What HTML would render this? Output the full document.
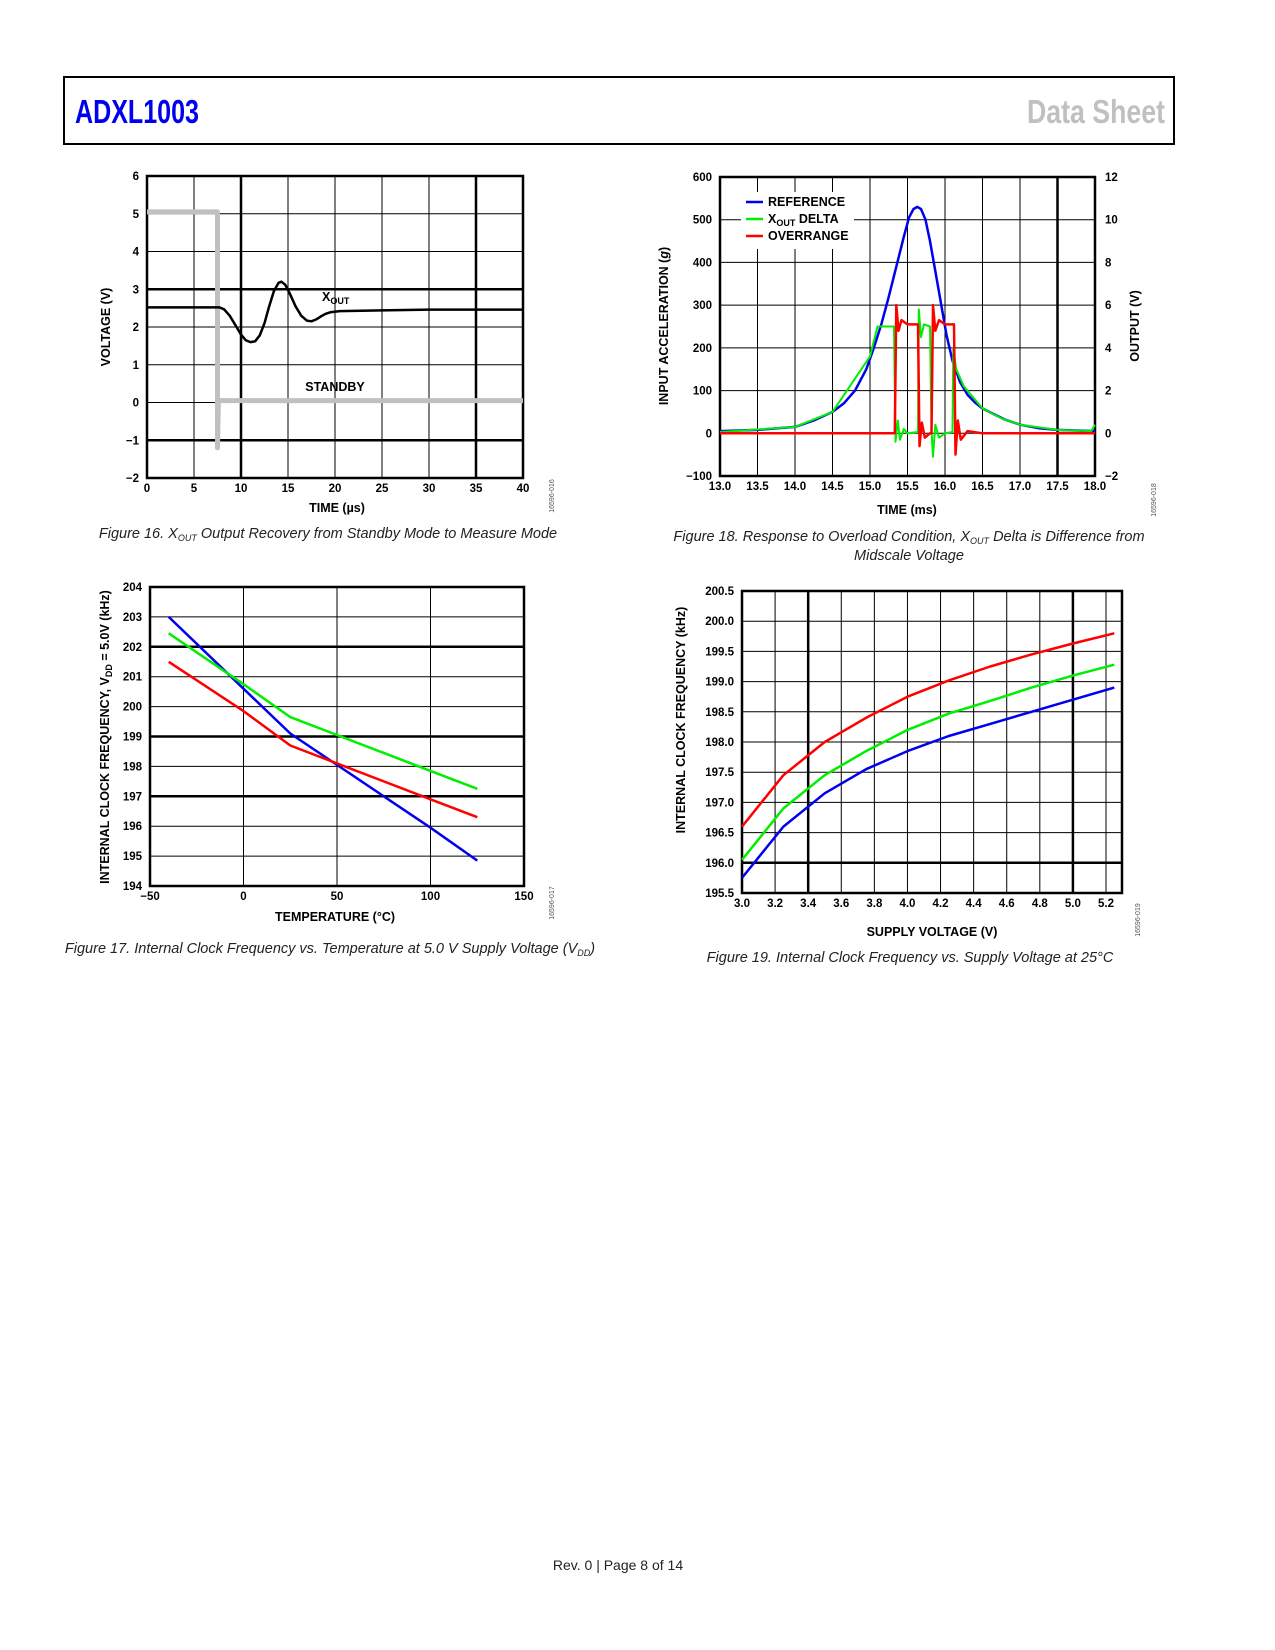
<!DOCTYPE html>
<html><head><meta charset="utf-8"><style>
body{margin:0;background:#fff;}
svg{display:block;font-family:"Liberation Sans",Arial,sans-serif;}
.t{font-size:11.5px;font-weight:bold;fill:#000;}
.at{font-size:12.5px;font-weight:bold;fill:#000;}
.cap{font-size:14.5px;font-style:italic;fill:#222;}
.code{font-size:7px;fill:#555;}
</style></head><body>
<svg id="pg" width="1275" height="1650" viewBox="0 0 1275 1650">
<rect x="64" y="77" width="1110" height="67" fill="none" stroke="#000" stroke-width="2"/>
<text x="75" y="123" font-size="33" font-weight="bold" fill="#0000ee" textLength="124" lengthAdjust="spacingAndGlyphs">ADXL1003</text>
<text x="1165" y="123" font-size="33" font-weight="bold" fill="#c0c0c0" text-anchor="end" textLength="138" lengthAdjust="spacingAndGlyphs">Data Sheet</text>
<text x="618" y="1570" font-size="14" text-anchor="middle" fill="#222">Rev. 0 | Page 8 of 14</text>
<g id="c1"></g>
<g id="c2"></g>
<g id="c3"></g>
<g id="c4"></g>
<text class="cap" x="328" y="538" text-anchor="middle">Figure 16. X<tspan font-size="9" dy="3">OUT</tspan><tspan dy="-3"> Output Recovery from Standby Mode to Measure Mode</tspan></text>
<text class="cap" x="909" y="541" text-anchor="middle">Figure 18. Response to Overload Condition, X<tspan font-size="9" dy="3">OUT</tspan><tspan dy="-3"> Delta is Difference from</tspan></text>
<text class="cap" x="909" y="560" text-anchor="middle">Midscale Voltage</text>
<text class="cap" x="330" y="953" text-anchor="middle">Figure 17. Internal Clock Frequency vs. Temperature at 5.0 V Supply Voltage (V<tspan font-size="9" dy="3">DD</tspan><tspan dy="-3">)</tspan></text>
<text class="cap" x="910" y="962" text-anchor="middle">Figure 19. Internal Clock Frequency vs. Supply Voltage at 25°C</text>
</svg>
<script>
// Figure 16 data
const f16XTicks=[0,5,10,15,20,25,30,35,40];
const f16YTicks=[-2,-1,0,1,2,3,4,5,6];
const f16XoutT=[0,7.7,8.2,8.8,9.4,10,10.5,11,11.5,12,12.5,13,13.5,14,14.3,14.7,15.2,15.8,16.4,17,17.5,18,18.5,19,19.5,20.5,25,30,40];
const f16XoutV=[2.52,2.52,2.47,2.3,2.05,1.8,1.65,1.6,1.62,1.78,2.1,2.55,2.95,3.17,3.2,3.12,2.88,2.55,2.3,2.17,2.15,2.2,2.28,2.35,2.39,2.42,2.44,2.46,2.46];
const f16StbT=[0,7.5,7.5,7.55,7.6,40];
const f16StbV=[5.05,5.05,-1.2,-0.5,0.05,0.05];
// Figure 18 data
const f18XTicks=[13.0,13.5,14.0,14.5,15.0,15.5,16.0,16.5,17.0,17.5,18.0];
const f18YTicks=[-100,0,100,200,300,400,500,600];
const f18Y2Ticks=[-2,0,2,4,6,8,10,12];
const f18RefT=[13,13.5,14,14.25,14.5,14.65,14.8,14.95,15.05,15.15,15.25,15.35,15.45,15.52,15.58,15.63,15.68,15.74,15.8,15.87,15.95,16.02,16.1,16.2,16.3,16.4,16.5,16.65,16.8,17,17.25,17.5,18];
const f18RefV=[5,8,15,30,50,70,100,150,200,255,320,390,460,505,525,530,525,500,450,380,300,230,170,120,90,72,58,45,32,20,12,8,5];
const f18DelT=[13,14,14.5,15,15.1,15.32,15.34,15.37,15.4,15.45,15.5,15.64,15.65,15.68,15.72,15.8,15.82,15.84,15.87,15.92,16.0,16.1,16.11,16.15,16.25,16.5,16.75,17,17.5,17.95,18];
const f18DelV=[3,15,50,180,250,250,-20,30,-15,10,0,3,290,225,255,250,5,-55,20,-10,0,3,200,150,110,58,35,20,8,5,20];
const f18OvrT=[13,15.33,15.35,15.38,15.42,15.5,15.64,15.66,15.69,15.73,15.8,15.82,15.84,15.87,15.92,16.0,16.12,16.14,16.17,16.21,16.3,16.5,18];
const f18OvrV=[0,0,300,240,265,255,255,-30,25,-10,0,0,300,240,265,255,255,-50,30,-15,5,0,0];
// Figure 17 data
const f17XTicks=[-50,0,50,100,150];
const f17YTicks=[194,195,196,197,198,199,200,201,202,203,204];
const f17Temp=[-40,0,25,50,100,125];
const f17Blue=[203.0,200.6,199.1,198.05,195.95,194.85];
const f17Green=[202.45,200.75,199.65,199.05,197.85,197.25];
const f17Red=[201.5,199.85,198.7,198.1,196.9,196.3];
// Figure 19 data
const f19XTicks=[3.0,3.2,3.4,3.6,3.8,4.0,4.2,4.4,4.6,4.8,5.0,5.2];
const f19YTicks=[195.5,196.0,196.5,197.0,197.5,198.0,198.5,199.0,199.5,200.0,200.5];
const f19Volt=[3.0,3.25,3.5,3.75,4.0,4.25,4.5,4.75,5.0,5.25];
const f19Red=[196.6,197.45,198.0,198.4,198.75,199.02,199.25,199.45,199.63,199.8];
const f19Green=[196.05,196.9,197.45,197.85,198.2,198.47,198.68,198.9,199.1,199.28];
const f19Blue=[195.75,196.6,197.15,197.55,197.85,198.1,198.3,198.5,198.7,198.9];

const NS="http://www.w3.org/2000/svg";
function mk(parent,tag,attrs){const e=document.createElementNS(NS,tag);for(const k in attrs)e.setAttribute(k,attrs[k]);parent.appendChild(e);return e;}
function scale(d0,d1,r0,r1){return v=>r0+(v-d0)*(r1-r0)/(d1-d0);}
function fmt(v,dec){let s=v.toFixed(dec);return v<0?'\u2212'+s.slice(1):s;}
function frame(g,L,R,T,B,xs,ys,xt,yt,thickX,thickY,dx,dy){
  xt.forEach(v=>{const x=xs(v);const l=mk(g,'line',{x1:x,x2:x,y1:T,y2:B,stroke:'#000','stroke-width':thickX.includes(v)?2.5:1});
    
    
    const t=mk(g,'text',{x:x,y:B+14,class:'t','text-anchor':'middle'});t.textContent=fmt(v,dx);
    
    });
  yt.forEach(v=>{const y=ys(v);const l=mk(g,'line',{x1:L,x2:R,y1:y,y2:y,stroke:'#000','stroke-width':thickY.includes(v)?2.5:1});
    
    
    const t=mk(g,'text',{x:L-8,y:y+4,class:'t','text-anchor':'end'});t.textContent=fmt(v,dy);
    
    });
  const r=mk(g,'rect',{x:L,y:T,width:R-L,height:B-T,fill:'none',stroke:'#000','stroke-width':2.5});
  
  
}
function series(g,xs,ys,X,Y,color,w,name){
  const d=X.map((v,i)=>(i?'L':'M')+xs(v).toFixed(1)+','+ys(Y[i]).toFixed(1)).join('');
  const p=mk(g,'path',{d:d,fill:'none',stroke:color,'stroke-width':w,'stroke-linejoin':'round'});
  
  
}
function label(g,x,y,txt,cls,rot,name){
  const t=mk(g,'text',{x:x,y:y,class:cls,'text-anchor':'middle'});
  if(rot)t.setAttribute('transform','rotate(-90 '+x+' '+y+')');
  t.innerHTML=txt;
  
  
  return t;
}
// Fig16
(function(){const g=document.getElementById('c1');const L=147,R=523,T=176,B=478;
const xs=scale(0,40,L,R),ys=scale(-2,6,B,T);
frame(g,L,R,T,B,xs,ys,f16XTicks,f16YTicks,[10,35],[3,-1],0,0);
series(g,xs,ys,f16StbT,f16StbV,'#c0c0c0',5,'standby-series');
series(g,xs,ys,f16XoutT,f16XoutV,'#000',2.5,'xout-series');
label(g,337,512,'TIME (µs)','at',0,'x-axis-title');
label(g,110,327,'VOLTAGE (V)','at',1,'y-axis-title');
const t=mk(g,'text',{x:322,y:301,class:'at'});t.innerHTML='X<tspan font-size="9" dy="3">OUT</tspan>';


label(g,306+29,391,'STANDBY','at',0,'standby-label');
label(g,554,496,'16596-016','code',1,'figure-code');})();
// Fig18
(function(){const g=document.getElementById('c2');const L=720,R=1095,T=177,B=476;
const xs=scale(13,18,L,R),ys=scale(-100,600,B,T);
frame(g,L,R,T,B,xs,ys,f18XTicks,f18YTicks,[17.5],[],1,0);
f18Y2Ticks.forEach(v=>{const t=mk(g,'text',{x:R+10,y:ys(v*50)+4,class:'t'});t.textContent=fmt(v,0);
 
 });
const bg=mk(g,'rect',{x:741,y:192,width:113,height:57,fill:'#fff'});


series(g,xs,ys,f18RefT,f18RefV,'#0000ee',2.5,'reference-series');
series(g,xs,ys,f18DelT,f18DelV,'#00ee00',2,'xout-delta-series');
series(g,xs,ys,f18OvrT,f18OvrV,'#ff0000',2.5,'overrange-series');
[['#0000ee','REFERENCE'],['#00ee00','X<tspan font-size="9" dy="3">OUT</tspan><tspan dy="-3"> DELTA</tspan>'],['#ff0000','OVERRANGE']].forEach((e,i)=>{
 const y=202+i*17;const l=mk(g,'line',{x1:746,x2:763,y1:y,y2:y,stroke:e[0],'stroke-width':2.5});
 
 
 const t=mk(g,'text',{x:768,y:y+4,class:'at'});t.innerHTML=e[1];
 
 });
label(g,907,514,'TIME (ms)','at',0,'x-axis-title');
label(g,668,326,'INPUT ACCELERATION (<tspan font-style="italic">g</tspan>)','at',1,'y-axis-title');
label(g,1139,326,'OUTPUT (V)','at',1,'right-y-axis-title');
label(g,1156,500,'16596-018','code',1,'figure-code');})();
// Fig17
(function(){const g=document.getElementById('c3');const L=150,R=524,T=587,B=886;
const xs=scale(-50,150,L,R),ys=scale(194,204,B,T);
frame(g,L,R,T,B,xs,ys,f17XTicks,f17YTicks,[],[202,199,197],0,0);
series(g,xs,ys,f17Temp,f17Blue,'#0000ee',2.5,'blue-series');
series(g,xs,ys,f17Temp,f17Green,'#00ee00',2.5,'green-series');
series(g,xs,ys,f17Temp,f17Red,'#ff0000',2.5,'red-series');
label(g,335,921,'TEMPERATURE (°C)','at',0,'x-axis-title');
label(g,109,737,'INTERNAL CLOCK FREQUENCY, V<tspan font-size="9" dy="3">DD</tspan><tspan dy="-3"> = 5.0V (kHz)</tspan>','at',1,'y-axis-title');
label(g,554,903,'16596-017','code',1,'figure-code');})();
// Fig19
(function(){const g=document.getElementById('c4');const L=742,R=1122,T=591,B=893;
const xs=scale(3.0,5.2,L,1106),ys=scale(195.5,200.5,B,T);
frame(g,L,R,T,B,xs,ys,f19XTicks,f19YTicks,[3.4,5.0],[196.0],1,1);
series(g,xs,ys,f19Volt,f19Red,'#ff0000',2.5,'red-series');
series(g,xs,ys,f19Volt,f19Green,'#00ee00',2.5,'green-series');
series(g,xs,ys,f19Volt,f19Blue,'#0000ee',2.5,'blue-series');
label(g,932,936,'SUPPLY VOLTAGE (V)','at',0,'x-axis-title');
label(g,685,720,'INTERNAL CLOCK FREQUENCY (kHz)','at',1,'y-axis-title');
label(g,1140,920,'16596-019','code',1,'figure-code');})();
</script>
</body></html>
